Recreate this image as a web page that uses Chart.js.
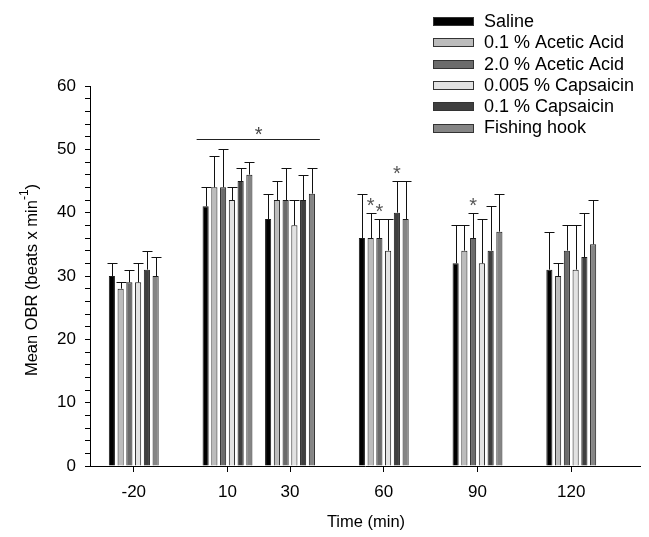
<!DOCTYPE html>
<html>
<head>
<meta charset="utf-8">
<script src="https://cdn.jsdelivr.net/npm/chart.js@4.4.1/dist/chart.umd.min.js"></script>
<style>
  html, body { margin: 0; padding: 0; background: #fff; }
  #wrap { width: 649px; height: 537px; }
</style>
</head>
<body>
<div id="wrap"><canvas id="chart1"></canvas></div>
<script>
// time points (min)
const times = [-20, 10, 30, 60, 90, 120];

const seriesNames = ['Saline', '0.1 % Acetic Acid', '2.0 % Acetic Acid', '0.005 % Capsaicin', '0.1 % Capsaicin', 'Fishing hook'];

// mean OBR per time point
const saline      = [30, 41, 39, 36, 32, 31];
const acetic01    = [28, 44, 42, 36, 34, 30];
const acetic20    = [29, 44, 42, 36, 36, 34];
const caps0005    = [29, 42, 38, 34, 32, 31];
const caps01      = [31, 45, 42, 40, 34, 33];
const fishingHook = [30, 46, 43, 39, 37, 35];

// top of the error bars (mean + SD)
const salineErr      = [32, 44, 43, 43, 38, 37];
const acetic01Err    = [29, 49, 45, 40, 38, 32];
const acetic20Err    = [31, 50, 47, 39, 40, 38];
const caps0005Err    = [32, 44, 42, 39, 39, 38];
const caps01Err      = [34, 47, 46, 45, 41, 40];
const fishingHookErr = [33, 48, 47, 45, 43, 42];

const yTicks = [0, 10, 20, 30, 40, 50, 60];

// significance marks: [time, series index]
const starBars = [[60, 1], [60, 2], [60, 4], [90, 2]];
// bracket over 10 and 30 min
const bracketTimes = [10, 30];
const bracketValue = 51.6;

const colors = ['#000000', '#bcbcbc', '#6b6b6b', '#e2e2e2', '#3f3f3f', '#858585'];
const means = [saline, acetic01, acetic20, caps0005, caps01, fishingHook];
const errs = [salineErr, acetic01Err, acetic20Err, caps0005Err, caps01Err, fishingHookErr];

const FONT = '"Liberation Sans", Arial, sans-serif';

const datasets = seriesNames.map((name, i) => ({
    label: name,
    data: times.map((t, j) => ({ x: t, y: means[i][j] })),
    backgroundColor: colors[i],
    borderColor: '#1a1a1a',
    borderWidth: 1,
    categoryPercentage: 0.84,
    barPercentage: 0.7
}));

const extras = {
    id: 'extras',
    afterDatasetsDraw(chart) {
        const ctx = chart.ctx;
        const ys = chart.scales.y;
        ctx.save();
        // error bars
        ctx.strokeStyle = '#111';
        ctx.lineWidth = 1;
        chart.data.datasets.forEach((ds, i) => {
            const meta = chart.getDatasetMeta(i);
            meta.data.forEach((bar, j) => {
                const x = Math.round(bar.x) + 0.5;
                const yTop = Math.round(ys.getPixelForValue(errs[i][j])) + 0.5;
                ctx.beginPath();
                ctx.moveTo(x, bar.y);
                ctx.lineTo(x, yTop);
                ctx.moveTo(x - 5, yTop);
                ctx.lineTo(x + 5, yTop);
                ctx.stroke();
            });
        });
        // stars above single bars
        ctx.fillStyle = '#555';
        ctx.font = '20px ' + FONT;
        ctx.textAlign = 'center';
        ctx.textBaseline = 'alphabetic';
        starBars.forEach(([t, s]) => {
            const j = times.indexOf(t);
            const bar = chart.getDatasetMeta(s).data[j];
            const yTop = ys.getPixelForValue(errs[s][j]);
            ctx.fillText('*', bar.x, yTop - 1);
        });
        // bracket over 10-30
        const m0 = chart.getDatasetMeta(0).data[times.indexOf(bracketTimes[0])];
        const m5 = chart.getDatasetMeta(5).data[times.indexOf(bracketTimes[1])];
        const by = Math.round(ys.getPixelForValue(bracketValue)) + 0.5;
        ctx.strokeStyle = '#222';
        ctx.beginPath();
        ctx.moveTo(m0.x - 9, by);
        ctx.lineTo(m5.x + 8, by);
        ctx.stroke();
        ctx.fillStyle = '#444';
        ctx.fillText('*', (m0.x + m5.x) / 2, by + 1);

        // legend
        ctx.font = '18px ' + FONT;
        ctx.textAlign = 'left';
        ctx.textBaseline = 'middle';
        seriesNames.forEach((name, i) => {
            const cy = 21 + i * 21.3;
            ctx.fillStyle = colors[i];
            ctx.fillRect(433, Math.round(cy - 4), 41, 9);
            ctx.strokeStyle = '#333';
            ctx.strokeRect(433.5, Math.round(cy - 4) + 0.5, 40, 8);
            ctx.fillStyle = '#000';
            ctx.fillText(name, 484, cy + 1);
        });

        // axis titles
        ctx.fillStyle = '#000';
        ctx.font = '16.5px ' + FONT;
        ctx.textAlign = 'center';
        ctx.textBaseline = 'middle';
        ctx.fillText('Time (min)', 366, 522);

        ctx.translate(32, 280);
        ctx.rotate(-Math.PI / 2);
        const main = 'Mean OBR (beats x min';
        const sup = '-1';
        const close = ')';
        ctx.font = '16.5px ' + FONT;
        const w1 = ctx.measureText(main).width;
        const w3 = ctx.measureText(close).width;
        ctx.font = '12px ' + FONT;
        const w2 = ctx.measureText(sup).width;
        let x0 = -(w1 + w2 + w3) / 2;
        ctx.textAlign = 'left';
        ctx.font = '16.5px ' + FONT;
        ctx.fillText(main, x0, 0);
        ctx.font = '12px ' + FONT;
        ctx.fillText(sup, x0 + w1, -7);
        ctx.font = '16.5px ' + FONT;
        ctx.fillText(close, x0 + w1 + w2, 0);
        ctx.restore();
    }
};

new Chart(document.getElementById('chart1'), {
    type: 'bar',
    data: { datasets: datasets },
    options: {
        responsive: true,
        maintainAspectRatio: false,
        animation: false,
        layout: { padding: { left: 0, right: 9, top: 86, bottom: 0 } },
        plugins: {
            legend: { display: false },
            tooltip: { enabled: false }
        },
        scales: {
            x: {
                type: 'linear',
                min: -34,
                max: 142,
                offset: false,
                afterBuildTicks: scale => { scale.ticks = times.map(v => ({ value: v })); },
                afterFit: scale => { scale.height = 71; },
                grid: { display: true, drawOnChartArea: false, offset: false, tickLength: 6, color: '#000', tickColor: '#000' },
                border: { display: true, color: '#000', width: 1 },
                ticks: { color: '#000', font: { family: FONT, size: 17 }, padding: 10, autoSkip: false, maxRotation: 0 }
            },
            y: {
                min: 0,
                max: 60,
                afterFit: scale => { scale.width = 90; },
                grid: { display: true, drawOnChartArea: false, tickLength: 5, color: '#000', tickColor: '#000' },
                border: { display: true, color: '#000', width: 1 },
                ticks: {
                    stepSize: 2,
                    autoSkip: false,
                    color: '#000',
                    padding: 9,
                    font: { family: FONT, size: 17 },
                    callback: v => yTicks.includes(v) ? v : ''
                }
            }
        }
    },
    plugins: [extras]
});
</script>
</body>
</html>
